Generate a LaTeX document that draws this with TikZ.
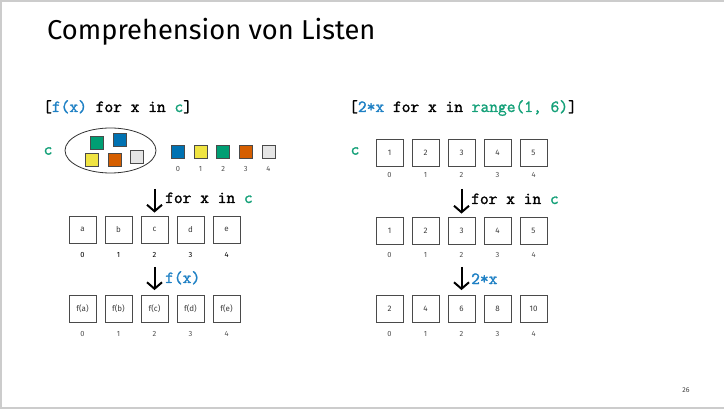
\documentclass[tikz,border=0pt]{standalone}
\usepackage{fontspec}
\setmainfont{Fira Sans}
\newfontfamily\codefont{Latin Modern Mono}[FakeBold=1.6]
\usetikzlibrary{arrows.meta,shapes.geometric}

\definecolor{codeblue}{HTML}{1E80C4}
\definecolor{codegreen}{HTML}{14A078}
\definecolor{okblue}{HTML}{0072B2}
\definecolor{okyellow}{HTML}{F0E442}
\definecolor{okgreen}{HTML}{009E73}
\definecolor{okorange}{HTML}{D55E00}
\definecolor{oklight}{HTML}{E5E5E5}
\definecolor{boxgray}{HTML}{4A4A4A}
\definecolor{labelgray}{HTML}{3C3C3C}
\definecolor{idxgray}{HTML}{505050}
\definecolor{framegray}{HTML}{CCCCCC}

\tikzset{
  cell/.style={draw=boxgray, line width=0.8pt, minimum size=27pt, inner sep=0pt,
    font=\fontsize{8}{9}\selectfont, text=labelgray},
  idx/.style={inner sep=0pt, font=\fontsize{7.5}{9}\selectfont, text=idxgray},
  swatch/.style={draw=boxgray, line width=0.7pt, minimum size=13pt, inner sep=0pt},
  code/.style={inner sep=0pt, font=\fontsize{17}{19}\codefont},
  flow/.style={-{Straight Barb[length=6.5pt,width=15pt]}, line width=2pt},
}

\begin{document}
\begin{tikzpicture}[x=1pt,y=-1pt]
\useasboundingbox (0,0) rectangle (724,409);
% slide frame
\fill[framegray] (0,0) rectangle (2,409);
\fill[framegray] (0,0) rectangle (724,2);
\fill[framegray] (0,406.5) rectangle (724,409);

\node[anchor=base west, inner sep=0pt, font=\fontsize{27.3}{30}\selectfont] (title) at (47,39.5) {Comprehension von Listen};

% ---------- left: [f(x) for x in c] ----------
\node[code, anchor=base west] (lcode) at (43,112)
  {[\textcolor{codeblue}{f(x)} for x in \textcolor{codegreen}{c}]};
\node[code, text=codegreen] (lc) at (48,151) {c};

\node[draw=black!80, line width=0.8pt, ellipse, minimum width=91pt, minimum height=45pt] (bag) at (110.5,150.5) {};
\node[swatch, fill=okgreen]  (bg1) at (96.5,142.5) {};
\node[swatch, fill=okblue]   (bg2) at (119.5,140) {};
\node[swatch, fill=okyellow] (bg3) at (91.5,160) {};
\node[swatch, fill=okorange] (bg4) at (115,160) {};
\node[swatch, fill=oklight]  (bg5) at (136.5,156.5) {};

\foreach \col [count=\i from 0] in {okblue,okyellow,okgreen,okorange,oklight} {
  \node[swatch, fill=\col] (sw\i) at (178+22.6*\i,151.5) {};
  \node[idx] (swi\i) at (178+22.6*\i,169) {\i};
}

\foreach \lab [count=\i from 0] in {a,b,c,d,e} {
  \node[cell] (la\i) at (82.5+36*\i,229.5) {\lab};
  \node[idx, text=black] (lai\i) at (82.5+36*\i,255) {\i};
  \node[cell] (lb\i) at (82.5+36*\i,309) {f(\lab)};
  \node[idx] (lbi\i) at (82.5+36*\i,334) {\i};
}

\coordinate (lA) at (154.5,189);
\draw[flow, shorten >=3pt] (lA) -- (la2.north);
\node[code, anchor=base west] (lAt) at (165,203) {for x in \textcolor{codegreen}{c}};
\coordinate (lB) at (154.5,267);
\draw[flow, shorten >=5pt] (lB) -- (lb2.north);
\node[code, anchor=base west, text=codeblue] (lBt) at (165,283) {f(x)};

% ---------- right: [2*x for x in range(1, 6)] ----------
\node[code, anchor=base west] (rcode) at (349,112)
  {[\textcolor{codeblue}{2*x} for x in \textcolor{codegreen}{range(1, 6)}]};
\node[code, text=codegreen] (rc) at (355,151) {c};

\foreach \v/\w [count=\i from 0] in {1/2,2/4,3/6,4/8,5/10} {
  \node[cell] (ra\i) at (389.5+36*\i,152.5) {\v};
  \node[idx] (rai\i) at (389.5+36*\i,175) {\i};
  \node[cell] (rb\i) at (389.5+36*\i,230.5) {\v};
  \node[idx] (rbi\i) at (389.5+36*\i,255) {\i};
  \node[cell] (rd\i) at (389.5+36*\i,309) {\w};
  \node[idx] (rdi\i) at (389.5+36*\i,334) {\i};
}

\coordinate (rA) at (461.5,189);
\draw[flow, shorten >=3pt] (rA) -- (rb2.north);
\node[code, anchor=base west] (rAt) at (471,204) {for x in \textcolor{codegreen}{c}};
\coordinate (rB) at (461.5,267);
\draw[flow, shorten >=5pt] (rB) -- (rd2.north);
\node[code, anchor=base west, text=codeblue] (rBt) at (471,284) {2*x};

\node[inner sep=0pt, font=\fontsize{7}{8}\selectfont, text=black!75] (pnum) at (686,390) {26};
\end{tikzpicture}
\end{document}
